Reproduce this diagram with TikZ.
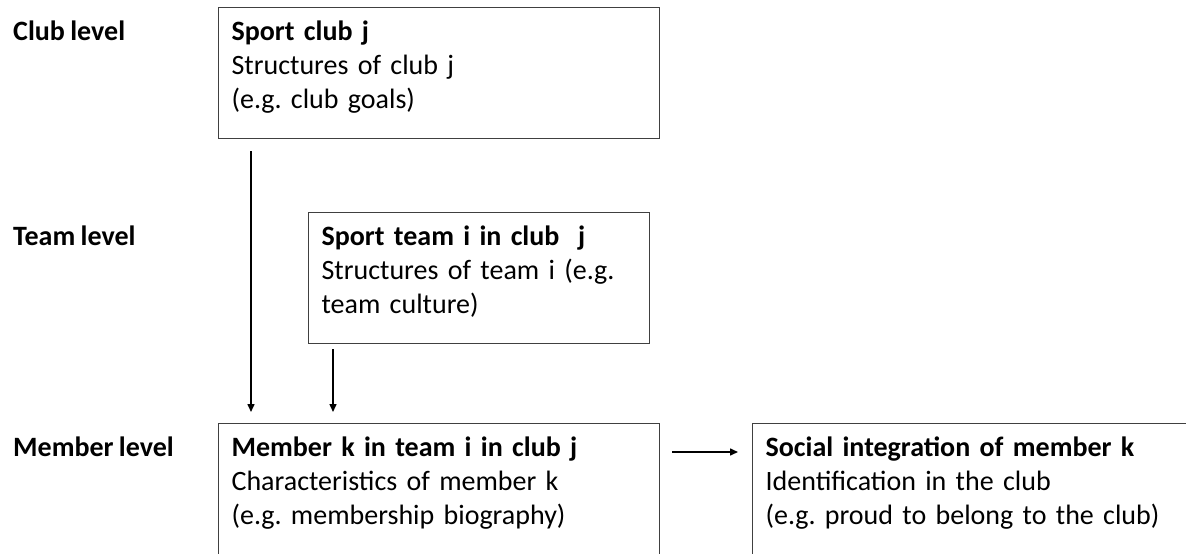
\documentclass[tikz,border=0pt]{standalone}
\usepackage{fontspec}
\setmainfont{Carlito}[WordSpace=0.85]
\usepackage{xcolor}
\definecolor{cLine}{HTML}{404040}
\definecolor{cText}{HTML}{000000}
\usepackage{tikz}
\usetikzlibrary{positioning,arrows.meta,calc}
\tikzset{
  node-box/.style={draw=cLine,line width=1.2pt,anchor=north west,align=left,
    inner xsep=13pt,inner ysep=9pt,text=cText,font=\fontsize{28}{34}\selectfont,
    execute at begin node=\strut,
    execute at end node={\rule[-21pt]{0pt}{21pt}}},
  node-cut/.style={execute at end node={\rule[-45pt]{0pt}{45pt}}},
  node-level/.style={anchor=base west,inner sep=0pt,text=cText,
    font=\fontsize{28}{34}\selectfont\bfseries},
  arrow/.style={-{Triangle[length=8pt,width=7pt]},line width=1.5pt,draw=black},
}
\frenchspacing

\begin{document}
\begin{tikzpicture}[x=1pt,y=-1pt]
  \clip (0,0) rectangle (1186,554);
  % levels
  \node[node-level] (lclub)   at (13,40)  {Club level};
  \node[node-level] (lteam)   at (13,245) {Team level};
  \node[node-level] (lmember) at (13,456) {Member level};
  % boxes
  \node[node-box,text width=415pt] (club)   at (218,7)
    {\textbf{Sport club j}\\Structures of club j\\(e.g. club goals)};
  \node[node-box,text width=315pt] (team)   at (308,212)
    {\textbf{Sport team i in club\ \ j}\\Structures of team i (e.g.\\team culture)};
  \node[node-box,node-cut,text width=415pt] (member) at (218,423)
    {\textbf{Member k in team i in club j}\\Characteristics of member k\\(e.g. membership biography)};
  \node[node-box,node-cut,text width=460pt] (social) at (752,423)
    {\textbf{Social integration of member k}\\Identification in the club\\(e.g. proud to belong to the club)};
  % arrows
  \coordinate (cm) at ($(club.south west)+(33,0)$);
  \coordinate (tm) at ($(team.south west)+(25,0)$);
  \draw[arrow,shorten <=12pt,shorten >=11pt] (cm) -- (cm |- member.north);
  \draw[arrow,shorten <=5pt,shorten >=11pt]  (tm) -- (tm |- member.north);
  \draw[arrow,shorten <=12pt,shorten >=14pt]
    ($(member.north east)+(0,29)$) -- ($(social.north west)+(0,29)$);
\end{tikzpicture}
\end{document}
